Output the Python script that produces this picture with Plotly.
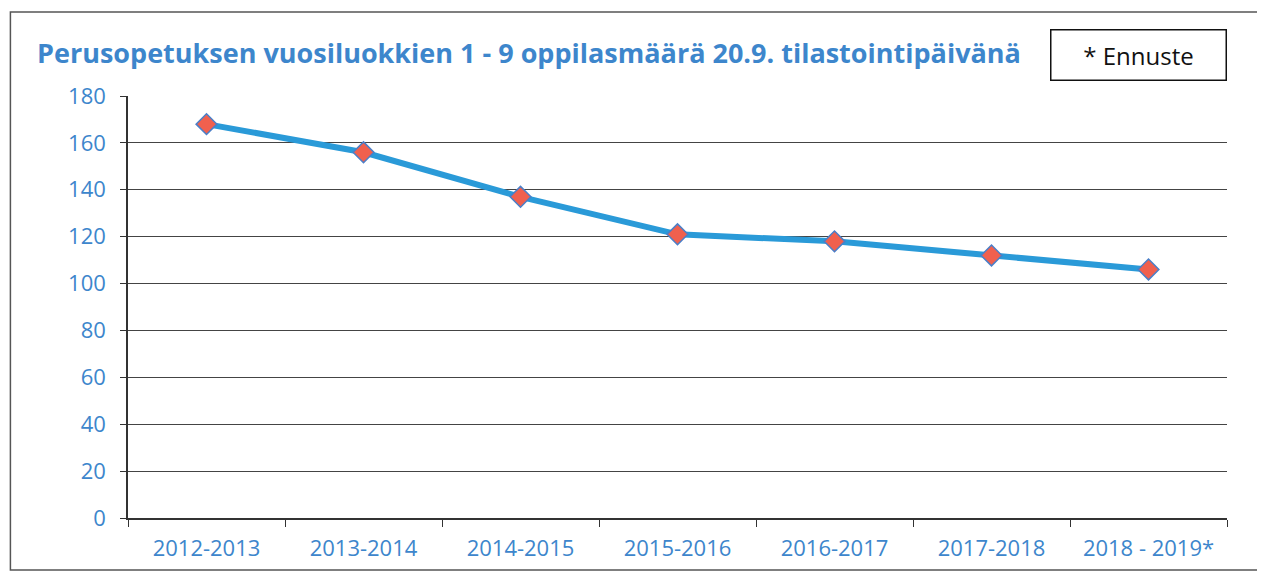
import plotly.graph_objects as go

categories = ["2012-2013", "2013-2014", "2014-2015", "2015-2016", "2016-2017", "2017-2018", "2018 - 2019*"]
values = [168, 156, 137, 121, 118, 112, 106]
y_ticks = [0, 20, 40, 60, 80, 100, 120, 140, 160, 180]

title_text = "Perusopetuksen vuosiluokkien 1 - 9 oppilasmäärä 20.9. tilastointipäivänä"
legend_text = "* Ennuste"

blue_text = "#3D86CC"

fig = go.Figure()
fig.add_trace(go.Scatter(
    x=categories, y=values, mode="lines+markers",
    line=dict(color="#2A9AD8", width=6),
    marker=dict(symbol="diamond", size=16, color="#F0604E",
                line=dict(color="#4A7FC8", width=1.5)),
    showlegend=False,
))

fig.update_layout(
    width=1257, height=566,
    margin=dict(l=120, r=38, t=88, b=56),
    paper_bgcolor="white", plot_bgcolor="white",
    font=dict(family="Open Sans", color=blue_text),
    xaxis=dict(
        type="category", range=[-0.5, 6.5],
        tickson="boundaries", ticks="outside", ticklen=7, tickcolor="#333",
        showgrid=False, showline=True, linecolor="#333", linewidth=1.5,
        ticklabelstandoff=10,
        tickfont=dict(size=22, color=blue_text, family="Open Sans"),
    ),
    yaxis=dict(
        range=[0, 180], tickvals=y_ticks,
        ticks="outside", ticklen=6, tickcolor="#333",
        showgrid=True, gridcolor="#444", gridwidth=1.3,
        showline=True, linecolor="#333", linewidth=1.5,
        zeroline=False, ticklabelstandoff=10,
        tickfont=dict(size=22, color=blue_text, family="Open Sans"),
    ),
)

fig.add_annotation(
    text="<b>" + title_text + "</b>", xref="paper", yref="paper",
    x=-0.085, y=1.104, xanchor="left", yanchor="middle", showarrow=False,
    font=dict(size=27, color=blue_text, family="Open Sans"),
)
fig.add_annotation(
    text=legend_text, xref="paper", yref="paper",
    x=1.0, y=1.097, xanchor="right", yanchor="middle", showarrow=False,
    font=dict(size=24, color="#111", family="Open Sans"),
    bordercolor="#111", borderwidth=1.5, borderpad=8,
    width=158, bgcolor="white",
)
fig.add_shape(type="rect", xref="paper", yref="paper",
              x0=-0.107, x1=1.028, y0=-0.123, y1=1.199,
              line=dict(color="#555", width=1.5))

fig.write_html("out.html")
